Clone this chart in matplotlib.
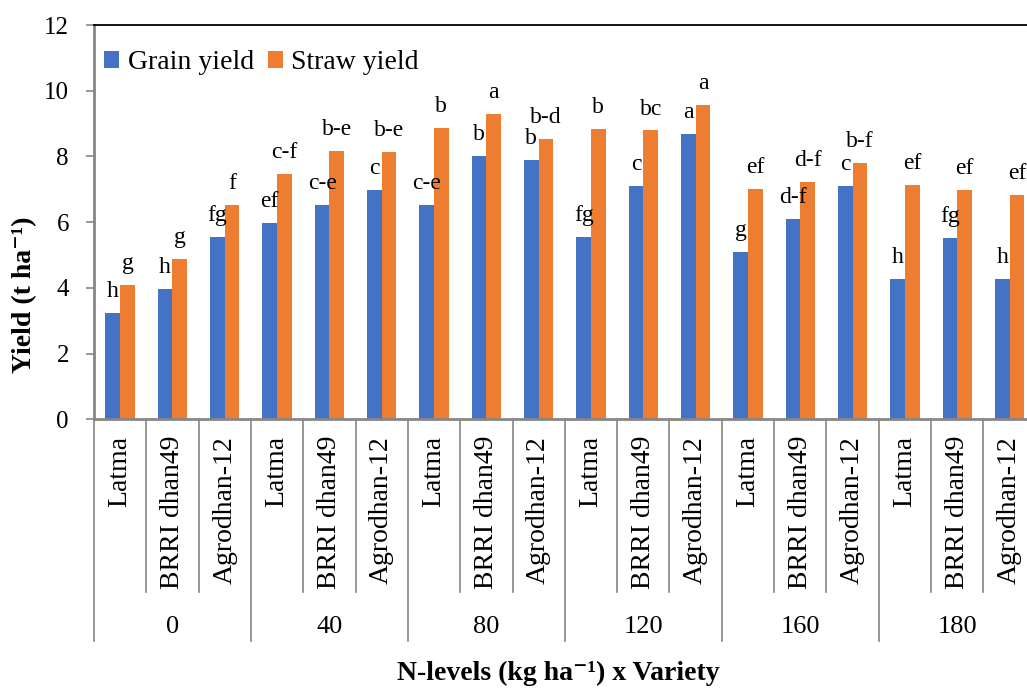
import matplotlib.pyplot as plt
import matplotlib.transforms as mtransforms
import numpy as np

plt.rcParams['font.family'] = ['Liberation Serif', 'DejaVu Serif']

# N levels (kg/ha) and the three varieties grown at each level
n_levels = ['0', '40', '80', '120', '160', '180']
varieties = ['Latma', 'BRRI dhan49', 'Agrodhan-12']

grain_yield = [3.23, 3.98, 5.54,
               5.98, 6.53, 6.99,
               6.53, 8.00, 7.90,
               5.56, 7.09, 8.69,
               5.10, 6.10, 7.11,
               4.28, 5.53, 4.28]
straw_yield = [4.09, 4.89, 6.51,
               7.47, 8.17, 8.13,
               8.87, 9.28, 8.54,
               8.85, 8.79, 9.57,
               7.01, 7.23, 7.79,
               7.14, 6.99, 6.84]

# DMRT letters
grain_letters = ['h', 'h', 'fg', 'ef', 'c-e', 'c', 'c-e', 'b', 'b',
                 'fg', 'c', 'a', 'g', 'd-f', 'c', 'h', 'fg', 'h']
straw_letters = ['g', 'g', 'f', 'c-f', 'b-e', 'b-e', 'b', 'a', 'b-d',
                 'b', 'bc', 'a', 'ef', 'd-f', 'b-f', 'ef', 'ef', 'ef']

blue = '#4472C4'
orange = '#ED7D31'
grey = '#868686'

n_var = len(varieties)
x = np.arange(len(n_levels) * n_var)
w = 0.28

fig = plt.figure(figsize=(10.27, 6.89), dpi=100)
ax = fig.add_axes([0.0915, 0.3914, 0.917, 0.5723])

b1 = ax.bar(x - w / 2, grain_yield, w, color=blue, label='Grain yield')
b2 = ax.bar(x + w / 2, straw_yield, w, color=orange, label='Straw yield')

for bars, letters in [(b1, grain_letters), (b2, straw_letters)]:
    for bar, txt in zip(bars, letters):
        ax.annotate(txt, (bar.get_x() + bar.get_width() / 2, bar.get_height()),
                    xytext=(0, 11.5), textcoords='offset points',
                    ha='center', va='baseline', fontsize=17)

ax.set_xlim(-0.5, len(x) - 0.5)
ax.set_ylim(0, 12)
ax.set_yticks(range(0, 13, 2))
ax.tick_params(axis='y', direction='out', length=6, width=1.2, color=grey,
               labelsize=18, pad=12)

ax.set_xticks(x, varieties * len(n_levels), rotation=90, va='top')
ax.tick_params(axis='x', length=0, labelsize=20, pad=12)

ax.spines['right'].set_visible(False)
ax.spines['top'].set_color('black')
ax.spines['top'].set_linewidth(1.3)
ax.spines['left'].set_color(grey)
ax.spines['left'].set_linewidth(2)
ax.spines['bottom'].set_color(grey)
ax.spines['bottom'].set_linewidth(2)

# multi-level category axis: separators and N-level labels
trans = mtransforms.blended_transform_factory(ax.transData, ax.transAxes)
for i in range(len(x) + 1):
    xb = i - 0.5
    y_end = -0.563 if i % n_var == 0 else -0.4388
    ax.plot([xb, xb], [0, y_end], color=grey, lw=1.2, transform=trans,
            clip_on=False)
for g, lvl in enumerate(n_levels):
    ax.text(g * n_var + 1, -0.5267, lvl, transform=trans, ha='center',
            va='center', fontsize=19)

ax.legend(loc='upper left', bbox_to_anchor=(104 / 1027, 1 - 50 / 689),
          bbox_transform=fig.transFigure, ncol=2, frameon=False, fontsize=20,
          handlelength=0.55, handleheight=0.55, handletextpad=0.3,
          columnspacing=0.5, borderpad=0, borderaxespad=0)

fig.text(25 / 1027, 1 - 294.5 / 689, 'Yield (t ha\u207b\u00b9)',
         rotation=90, ha='center', va='center', fontsize=20,
         fontweight='bold')
fig.text(558 / 1027, 9 / 689, 'N-levels (kg ha\u207b\u00b9) x Variety',
         ha='center', va='baseline', fontsize=20, fontweight='bold')

fig.savefig('out.png', dpi=100)
